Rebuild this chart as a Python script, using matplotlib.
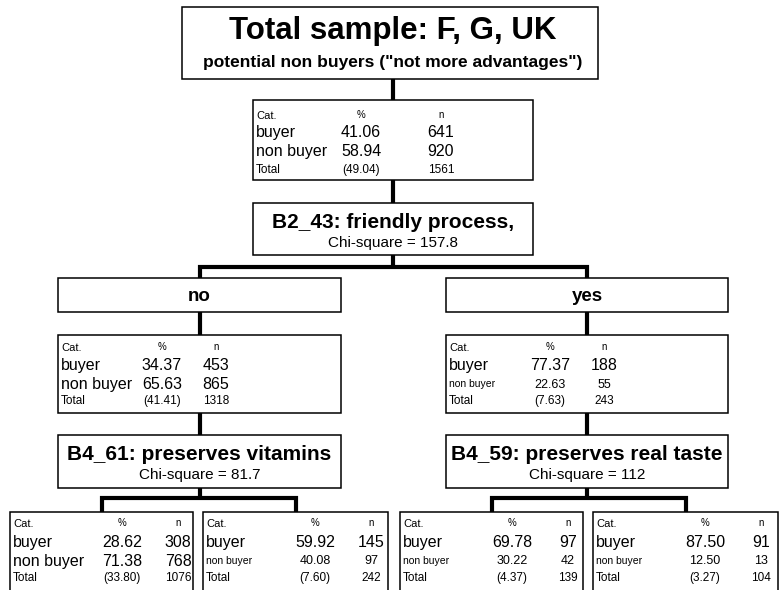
import matplotlib
matplotlib.use("Agg")
import matplotlib.pyplot as plt
from matplotlib.patches import Rectangle

# --- chart text and values ---
title = "Total sample: F, G, UK"
subtitle = 'potential non buyers ("not more advantages")'
row_labels = ["Cat.", "buyer", "non buyer", "Total"]
col_labels = ["%", "n"]
branch_labels = ["no", "yes"]
split_vars = ["B2_43: friendly process,", "B4_61: preserves vitamins",
              "B4_59: preserves real taste"]
chi_square = [157.8, 81.7, 112]

# nodes: root, no, yes, no/1, no/2, yes/1, yes/2
buyer_pct = [41.06, 34.37, 77.37, 28.62, 59.92, 69.78, 87.50]
nonbuyer_pct = [58.94, 65.63, 22.63, 71.38, 40.08, 30.22, 12.50]
total_pct = [49.04, 41.41, 7.63, 33.80, 7.60, 4.37, 3.27]
buyer_n = [641, 453, 188, 308, 145, 97, 91]
nonbuyer_n = [920, 865, 55, 768, 97, 42, 13]
total_n = [1561, 1318, 243, 1076, 242, 139, 104]

# "non buyer" row printed small in some nodes
small_nonbuyer = [False, False, True, False, True, True, True]

FONT = "Liberation Sans"
LINE = 3.0   # connector width (pt)
BORDER = 1.1

fig = plt.figure(figsize=(7.8, 5.9), dpi=100)
ax = fig.add_axes([0, 0, 1, 1])
ax.set_xlim(0, 780)
ax.set_ylim(590, 0)
ax.axis("off")


def box(x0, x1, y0, y1):
    ax.add_patch(Rectangle((x0, y0), x1 - x0, y1 - y0, facecolor="white",
                           edgecolor="black", lw=BORDER, zorder=3))


def vline(x, y0, y1):
    ax.plot([x, x], [y0, y1], color="black", lw=LINE,
            solid_capstyle="butt", zorder=2)


def fork(xl, xr, y0, ybar, y1, xc):
    vline(xc, y0, ybar)
    ax.plot([xl, xl, xr, xr], [y1, ybar, ybar, y1], color="black", lw=LINE,
            solid_joinstyle="miter", solid_capstyle="butt", zorder=2)


def txt(x, y, s, size, bold=False, ha="center"):
    # y is the visual middle of the capitals; put the baseline below it
    ax.text(x, y + 0.5 * size, s, fontsize=size,
            fontweight="bold" if bold else "normal",
            family=FONT, ha=ha, va="baseline", zorder=4)


def table(i, x0, y0, xp, xn, dy):
    small = small_nonbuyer[i]
    rows = [
        (row_labels[0], col_labels[0], col_labels[1], 8, 7),
        (row_labels[1], f"{buyer_pct[i]:.2f}", f"{buyer_n[i]}", 11.5, 11.5),
        (row_labels[2], f"{nonbuyer_pct[i]:.2f}", f"{nonbuyer_n[i]}",
         7.5 if small else 11.5, 9 if small else 11.5),
        (row_labels[3], f"({total_pct[i]:.2f})", f"{total_n[i]}", 8.5, 8.5),
    ]
    for k, (lab, p, n, fs_lab, fs_num) in enumerate(rows):
        y = y0 + dy[k]
        txt(x0 + 3, y, lab, fs_lab, ha="left")
        txt(x0 + xp, y, p, fs_num)
        txt(x0 + xn, y, n, fs_num)


def split(k, x0, x1, y0, y1):
    box(x0, x1, y0, y1)
    cx = (x0 + x1) / 2
    txt(cx, y0 + 18, split_vars[k], 15, bold=True)
    txt(cx, y0 + 39, f"Chi-square = {chi_square[k]:g}", 11)


# --- root ---
cx0 = 393
box(182, 598, 7, 79)
txt(cx0, 28, title, 22.5, bold=True)
txt(cx0, 61, subtitle, 12.5, bold=True)
vline(cx0, 79, 100)
box(253, 533, 100, 180)
table(0, 253, 100, 108, 188, [15, 31, 50, 69])
vline(cx0, 180, 203)
split(0, 253, 533, 203, 255)

# --- first level ---
mid_x = [(58, 341), (446, 728)]
fork(200, 587, 255, 267, 278, cx0)
leaf_x = [[(10, 193), (203, 388)], [(400, 583), (593, 778)]]
for b, (x0, x1) in enumerate(mid_x):
    cx = (x0 + x1) / 2
    box(x0, x1, 278, 312)
    txt(cx, 294, branch_labels[b], 13.5, bold=True)
    vline(cx, 312, 335)
    box(x0, x1, 335, 413)
    table(1 + b, x0, 335, 104, 158, [12, 29, 48, 65])
    vline(cx, 413, 435)
    split(1 + b, x0, x1, 435, 488)
    # leaves
    lx = [(a + c) / 2 for a, c in leaf_x[b]]
    fork(lx[0], lx[1], 488, 498, 512, cx)
    for j, (a, c) in enumerate(leaf_x[b]):
        box(a, c, 512, 600)
        table(3 + 2 * b + j, a, 512, 112, 168, [11, 29, 48, 65])

fig.savefig("out.png", dpi=100, facecolor="white")
